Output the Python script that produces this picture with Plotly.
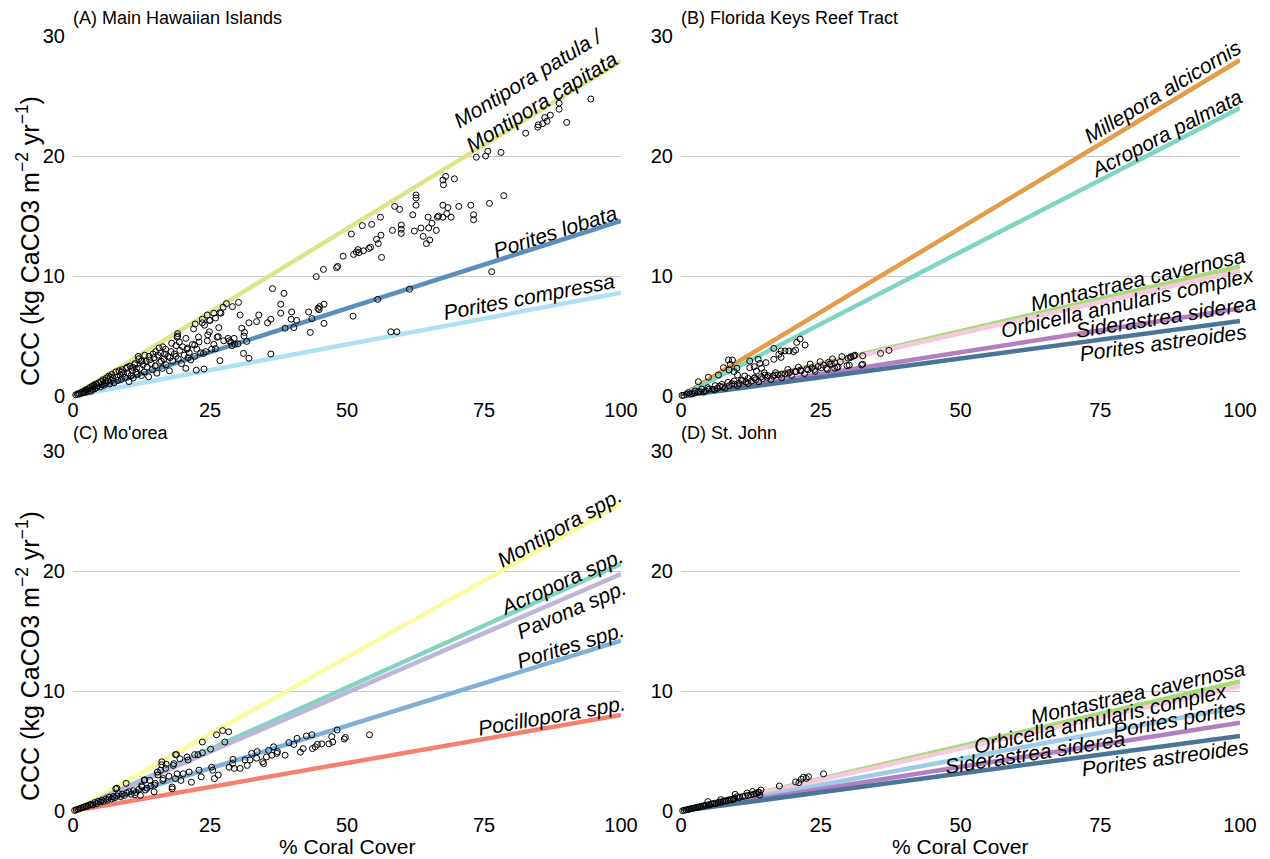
import math
import plotly.graph_objects as go

# ---------------- data ----------------
hawaii_taxa = ["Montipora patula /<br>Montipora capitata", "Porites lobata", "Porites compressa"]
hawaii_ccc100 = [27.9, 14.6, 8.6]

florida_taxa = ["Montastraea cavernosa", "Orbicella annularis complex", "Millepora alcicornis",
                "Acropora palmata", "Siderastrea siderea", "Porites astreoides"]
florida_ccc100 = [10.8, 10.45, 28.0, 24.0, 7.3, 6.25]

moorea_taxa = ["Montipora spp.", "Acropora spp.", "Pavona spp.", "Porites spp.", "Pocillopora spp."]
moorea_ccc100 = [25.6, 20.6, 19.75, 14.2, 8.0]

stjohn_taxa = ["Montastraea cavernosa", "Orbicella annularis complex", "Porites porites",
               "Siderastrea siderea", "Porites astreoides"]
stjohn_ccc100 = [10.8, 10.4, 8.7, 7.35, 6.25]

x_ticks = [0, 25, 50, 75, 100]
y_ticks = [0, 10, 20, 30]

hawaii_cover = [88.7, 88.7, 90.1, 87.1, 86.1, 86.5, 85.7, 84.8, 84.9, 82.6, 78.1, 75.7, 75.3, 73.6, 78.6, 76.4,
                69.6, 68.0, 67.5, 67.6, 72.6, 76.0, 73.1, 73.1, 70.4, 69.0, 68.4, 67.5, 68.2, 67.5, 66.5, 66.7,
                64.8, 65.5, 64.9, 66.3, 63.5, 62.3, 63.9, 65.1, 64.5, 62.6, 62.6, 62.6, 62.0, 59.9, 59.9, 59.9,
                58.3, 59.6, 58.7, 56.1, 54.5, 52.8, 50.8, 56.2, 55.4, 55.7, 56.3, 54.3, 54.0, 53.0, 52.2, 51.2,
                52.0, 51.7, 49.3, 48.3, 48.1, 45.7, 44.4, 61.4, 55.6, 51.1, 58.0, 59.1, 45.8, 45.0, 44.7, 44.9,
                43.0, 43.6, 45.8, 43.3, 36.4, 38.5, 37.9, 37.9, 39.9, 39.8, 40.8, 40.3, 38.7, 36.1, 35.5, 33.9,
                33.5, 30.5, 30.2, 29.1, 94.5,
                30.8, 32.1, 31.3, 31.2, 31.7, 31.1, 32.1, 30.1, 29.4, 28.5, 29.0, 36.1,
                28.0, 27.4, 26.8, 25.7, 24.5, 23.6, 24.9, 22.3, 26.6, 24.9, 26.5, 26.0, 26.8, 23.9, 22.5, 22.2,
                23.8, 19.1, 19.1, 18.8, 11.9, 16.4,
                0.5, 0.8, 1.0, 1.2, 1.5, 1.8, 2.0, 2.2, 2.5, 2.6, 2.8, 3.0, 3.1, 3.3, 3.5, 3.6, 3.8, 4.0, 4.2,
                4.3, 4.5, 4.7, 5.0, 5.1, 5.3, 5.5, 5.7, 6.0, 6.1, 6.3, 6.5, 6.7, 7.0, 7.1, 7.3, 7.5, 7.8, 8.0,
                8.2, 8.4, 8.6, 8.8, 9.0, 9.2, 9.5, 9.7, 10.0, 10.2, 10.4, 10.6, 10.8, 11.0, 11.3, 11.5, 11.7,
                12.0, 12.2, 12.5, 12.8, 13.0, 13.3, 13.5, 13.8, 14.0, 14.3, 14.5, 14.8, 15.0, 15.3, 15.5, 15.8,
                16.0, 16.3, 16.6, 16.9, 17.0, 17.3, 17.6, 17.9, 18.2, 18.5, 18.8, 19.0, 19.2, 19.5, 19.8, 20.0,
                20.3, 20.6, 20.9, 21.2, 21.5, 21.8, 22.0, 22.2, 22.6, 23.0, 23.3, 23.6, 24.0, 24.2, 24.5, 25.0,
                25.3, 25.7, 26.0, 26.3, 27.0, 27.5, 28.3, 28.8, 29.5,
                2.3, 3.9, 5.9, 6.8, 8.9, 9.9, 11.2, 12.6, 13.9, 15.1, 16.7, 18.0, 20.6, 21.0,
                10.9, 12.4, 14.6, 16.1, 17.7, 19.4, 20.8, 22.9, 24.6, 15.7, 13.1, 11.6]
hawaii_ccc = [24.4, 23.9, 22.8, 23.4, 23.2, 22.9, 22.7, 22.4, 22.6, 21.9, 20.3, 20.4, 20.0, 19.9, 16.7, 10.36,
              18.1, 18.3, 18.0, 17.6, 15.9, 16.05, 15.1, 14.7, 15.8, 14.9, 15.7, 15.9, 15.2, 14.9, 14.9, 15.0,
              14.9, 14.4, 14.0, 13.8, 14.0, 13.75, 13.3, 13.0, 12.7, 16.75, 16.5, 15.9, 15.1, 14.25, 13.9, 13.55,
              13.8, 15.55, 15.8, 14.9, 14.3, 14.2, 13.5, 13.4, 13.05, 12.7, 11.55, 12.4, 12.3, 12.1, 11.95, 11.8,
              12.2, 12.0, 11.65, 10.8, 10.7, 10.55, 9.95, 8.9, 8.05, 6.65, 5.35, 5.35, 7.65, 7.45, 7.3, 7.2,
              7.0, 6.45, 6.05, 5.3, 8.95, 8.55, 7.65, 6.9, 7.0, 6.4, 6.3, 5.7, 5.65, 6.4, 6.1, 6.75,
              6.2, 6.75, 7.8, 7.45, 24.75,
              5.65, 6.1, 5.3, 5.0, 4.55, 3.55, 3.15, 4.35, 4.8, 4.6, 4.2, 3.5,
              7.7, 7.4, 6.95, 6.9, 6.75, 6.4, 6.3, 6.0, 5.7, 5.35, 4.95, 3.95, 2.95, 2.25, 2.15, 4.25,
              3.55, 5.2, 5.0, 3.3, 3.3, 4.1,
              0.1, 0.15, 0.2, 0.15, 0.3, 0.25, 0.4, 0.3, 0.5, 0.35, 0.6, 0.45, 0.7, 0.4, 0.8, 0.55, 0.9, 0.6, 1.0,
              0.7, 0.85, 1.1, 0.75, 1.2, 0.95, 1.35, 0.9, 1.1, 1.5, 1.25, 1.65, 1.0, 1.3, 1.8, 1.5, 1.1, 2.0, 1.6,
              1.3, 2.1, 1.75, 1.4, 2.2, 1.85, 1.55, 2.3, 1.9, 1.2, 2.5, 1.7, 2.1, 1.5, 2.7, 2.0, 1.8,
              3.1, 2.3, 1.7, 2.6, 2.0, 2.9, 2.4, 1.6, 3.0, 2.7, 2.2, 3.2, 2.5, 1.9, 3.4, 2.8,
              3.6, 2.3, 3.1, 3.9, 2.6, 3.3, 2.1, 3.7, 2.9, 3.5, 4.2, 4.9, 3.1, 3.8, 2.7, 4.1,
              3.4, 2.3, 4.0, 3.6, 3.0, 4.3, 5.6, 3.3, 3.9, 4.5, 3.6, 6.1, 5.9, 3.7, 4.6, 6.3,
              3.9, 4.3, 6.5, 4.9, 6.9, 4.6, 4.8, 4.5, 4.3,
              0.5, 0.8, 1.3, 1.6, 2.0, 2.4, 2.6, 2.9, 3.3, 3.7, 3.5, 4.4, 4.8, 3.2,
              2.4, 2.9, 3.5, 2.9, 3.2, 4.5, 3.9, 4.9, 5.1, 4.0, 3.4, 2.3]

florida_cover = [37.2, 35.7, 32.5, 32.5, 31.1, 30.3, 21.3, 22.2, 20.7, 16.6, 17.9, 18.6, 19.3, 20.1, 17.5, 17.9,
                 16.6, 20.5, 8.5, 9.2, 8.8, 7.6, 12.3, 13.8, 14.1, 13.1, 12.3, 14.4, 13.5, 15.2, 14.9, 10.0,
                 9.5, 10.1, 11.4, 8.6, 6.7, 4.9, 3.1,
                 29.9, 30.4, 30.9, 32.3, 29.7, 28.1, 27.5, 26.4, 26.9, 26.0, 25.1, 23.9, 22.7, 21.5, 20.4, 19.2,
                 18.0, 16.8, 15.6, 14.4, 13.2, 12.0, 10.8, 9.5, 8.4, 7.3, 6.1, 4.8, 3.7, 2.5, 1.3, 0.2,
                 2.0, 4.1, 6.0, 7.9, 10.1, 12.0, 13.9, 16.1, 18.0, 19.8, 22.1, 24.0, 26.2, 27.9, 30.1,
                 1.0, 3.1, 5.0, 6.9, 9.1, 11.0, 13.1, 15.0, 16.9, 19.1, 21.0, 23.1, 24.9, 27.1, 28.8,
                 0.5, 1.6, 2.4, 3.5, 4.4, 5.6, 6.5, 7.4, 8.6, 9.6, 10.4, 11.6, 12.6, 13.4, 14.6, 15.4, 16.5,
                 17.4, 18.6, 19.5, 20.6, 21.4, 22.5, 23.4, 24.5, 25.5, 26.6, 27.5, 28.5]
florida_ccc = [3.8, 3.55, 3.35, 2.65, 3.4, 3.2, 4.75, 4.25, 4.47, 3.97, 3.75, 3.75, 3.75, 3.7, 3.47, 3.22,
               3.06, 3.83, 3.0, 3.0, 2.64, 2.36, 2.92, 3.06, 2.72, 2.44, 2.36, 2.31, 2.08, 2.78, 1.94, 2.31,
               2.03, 1.75, 1.67, 2.17, 1.75, 1.56, 1.19,
               3.14, 3.28, 3.33, 2.58, 2.53, 2.44, 2.31, 2.81, 2.64, 2.31, 2.36, 2.22, 2.17, 2.08, 2.03, 1.89,
               1.81, 1.75, 1.69, 1.61, 1.53, 1.47, 1.33, 1.25, 1.14, 0.97, 0.86, 0.69, 0.58, 0.42, 0.28, 0.05,
               0.17, 0.33, 0.52, 0.66, 0.86, 1.03, 1.18, 1.37, 1.52, 1.71, 1.86, 2.05, 2.21, 2.38, 2.57,
               0.13, 0.36, 0.57, 0.81, 1.03, 1.28, 1.49, 1.74, 1.94, 2.21, 2.40, 2.66, 2.86, 3.09, 3.28,
               0.06, 0.16, 0.25, 0.36, 0.44, 0.57, 0.64, 0.76, 0.85, 0.97, 1.04, 1.17, 1.24, 1.36, 1.45, 1.56, 1.66,
               1.77, 1.84, 1.97, 2.04, 2.16, 2.26, 2.35, 2.44, 2.57, 2.66, 2.77, 2.86]

moorea_cover = [54.1, 49.7, 49.5, 48.2, 47.2, 47.4, 46.7, 45.4, 44.6, 44.2, 43.7, 43.6, 42.6, 42.0, 41.5, 40.9,
                40.3, 39.4, 38.7, 37.3, 37.2, 36.6, 36.3, 35.7, 35.3, 34.6, 34.8, 33.6, 33.5, 32.6, 32.3, 31.8,
                31.4, 30.5, 29.4, 29.2, 29.1, 28.5, 28.4, 27.3, 26.2, 27.7, 26.5, 25.8, 25.5, 25.3, 25.1, 23.6,
                23.6, 23.0, 23.4, 22.8, 22.2, 21.6, 21.0, 20.8, 21.2, 20.1, 19.7, 18.7, 18.4, 18.7, 18.1, 18.1,
                16.9, 16.2, 16.0, 16.4, 15.4, 14.9, 14.8, 13.0, 12.6, 12.3, 9.7, 7.8,
                0.3, 0.6, 0.9, 1.2, 1.5, 1.8, 2.1, 2.4, 2.7, 3.0, 3.3, 3.6, 4.0, 4.3, 4.6, 5.0, 5.3, 5.6, 6.0,
                6.3, 6.6, 7.0, 7.3, 7.6, 8.0, 8.3, 8.7, 9.0, 9.4, 9.8, 10.2, 10.6, 11.0, 11.5, 12.0, 13.5, 14.2,
                15.0, 16.5, 17.5, 19.0, 13.1, 19.5, 17.0, 14.0, 12.5, 13.2, 11.3, 8.0, 15.5, 16.2, 18.9, 18.3]
moorea_ccc = [6.35, 6.13, 6.0, 6.75, 6.2, 5.75, 5.6, 5.6, 5.55, 5.35, 5.2, 6.35, 6.25, 5.2, 4.9, 6.05,
              5.55, 5.7, 4.65, 4.95, 4.8, 5.35, 4.65, 5.05, 4.5, 4.1, 3.95, 4.95, 4.4, 4.8, 4.25, 3.8,
              4.25, 3.55, 3.55, 4.3, 3.95, 3.65, 6.6, 6.7, 6.35, 5.75, 3.0, 2.7, 3.4, 3.65, 5.15, 5.75,
              4.85, 3.4, 2.85, 4.7, 4.7, 2.4, 4.25, 4.5, 3.25, 3.1, 2.55, 4.7, 3.95, 2.7, 2.0, 1.85,
              3.55, 4.1, 3.4, 2.55, 3.25, 2.15, 1.6, 2.55, 2.0, 1.3, 2.3, 1.85,
              0.05, 0.1, 0.15, 0.2, 0.25, 0.3, 0.35, 0.4, 0.4, 0.5, 0.55, 0.5, 0.7, 0.6, 0.8, 0.75, 0.9, 0.8, 1.0,
              0.9, 1.15, 1.0, 1.2, 1.1, 1.25, 1.45, 1.2, 1.4, 1.3, 1.5, 1.6, 1.4, 1.7, 1.55, 1.8, 1.9, 2.1,
              2.3, 2.7, 2.9, 3.1, 2.6, 4.35, 3.9, 2.55, 2.1, 1.75, 1.35, 1.9, 3.0, 3.85, 4.7, 3.8]

stjohn_cover = [25.5, 22.8, 22.4, 21.9, 21.5, 21.1, 20.5, 17.6, 14.3, 13.8, 13.4, 14.1, 9.7, 10.0, 9.4, 4.8,
                0.3, 0.6, 0.9, 1.2, 1.5, 1.8, 2.1, 2.4, 2.7, 3.0, 3.3, 3.6, 3.9, 4.2, 4.5, 4.9, 5.1, 5.4, 5.7,
                6.0, 6.3, 6.6, 6.9, 7.2, 7.5, 7.8, 8.1, 8.4, 8.7, 9.0, 9.3, 9.6, 10.3, 10.5, 11.0, 11.5, 12.0,
                12.5, 13.0, 13.5, 14.0, 12.8, 11.8, 7.1]
stjohn_ccc = [3.1, 2.86, 2.72, 2.81, 2.64, 2.36, 2.42, 2.08, 1.75, 1.56, 1.47, 1.33, 1.39, 1.19, 0.97, 0.78,
              0.03, 0.06, 0.09, 0.12, 0.15, 0.2, 0.22, 0.25, 0.28, 0.32, 0.35, 0.38, 0.42, 0.45, 0.48, 0.52, 0.5, 0.58, 0.6,
              0.65, 0.62, 0.7, 0.75, 0.72, 0.8, 0.85, 0.82, 0.9, 0.95, 0.92, 1.0, 1.05, 1.1, 1.15, 1.2, 1.25, 1.3,
              1.35, 1.4, 1.45, 1.55, 1.62, 1.5, 0.95]

# ---------------- styles / layout ----------------
W, H = 1270, 859
FONT = "Liberation Sans, Arial, Helvetica, sans-serif"

hawaii_colors = ["#dfe38a", "#5b8fb9", "#aee0f7"]
florida_colors = ["#a6dc74", "#f8c8e0", "#e69b48", "#80d4c4", "#b27fc2", "#4a7598"]
moorea_colors = ["#fbfb9e", "#84d3c1", "#bdb6da", "#7fb0d8", "#f6806f"]
stjohn_colors = ["#a6dc74", "#f8c8e0", "#9ecbea", "#b27fc2", "#4a7598"]

# label centres (data coords) for each taxon label
hawaii_lab = [(84.2, 25.5), (88.0, 13.7), (83.3, 8.3)]
florida_lab = [(81.7, 9.7), (79.9, 7.8), (86.1, 25.4), (86.7, 21.9), (86.7, 6.6), (86.3, 4.45)]
moorea_lab = [(88.8, 23.6), (89.2, 19.1), (90.9, 16.8), (90.7, 13.8), (87.4, 7.95)]
stjohn_lab = [(81.7, 9.9), (75.0, 7.7), (89.2, 7.7), (63.3, 4.85), (86.7, 4.45)]

# pixel boxes of plot areas: (left, right, top, bottom)
boxes = {
    "A": (73, 621, 36, 396),
    "B": (681, 1240, 36, 396),
    "C": (73, 621, 451, 811),
    "D": (681, 1240, 451, 811),
}

def px(x):
    return x / W

def py(y):
    return 1 - y / H

fig = go.Figure()

panels = [
    ("A", "x", "y", hawaii_taxa, hawaii_ccc100, hawaii_colors, hawaii_lab, hawaii_cover, hawaii_ccc),
    ("B", "x2", "y2", florida_taxa, florida_ccc100, florida_colors, florida_lab, florida_cover, florida_ccc),
    ("C", "x3", "y3", moorea_taxa, moorea_ccc100, moorea_colors, moorea_lab, moorea_cover, moorea_ccc),
    ("D", "x4", "y4", stjohn_taxa, stjohn_ccc100, stjohn_colors, stjohn_lab, stjohn_cover, stjohn_ccc),
]

annotations = []
for key, xa, ya, taxa, ends, colors, labs, cov, ccc in panels:
    l, r, t, b = boxes[key]
    xpu = (r - l) / 100.0
    ypu = (b - t) / 30.0
    for name, end, col in zip(taxa, ends, colors):
        fig.add_trace(go.Scatter(x=[0, 100], y=[0, end], mode="lines",
                                 line=dict(color=col, width=4.5), xaxis=xa, yaxis=ya,
                                 hoverinfo="skip", cliponaxis=False))
    fig.add_trace(go.Scatter(x=cov, y=ccc, mode="markers",
                             marker=dict(symbol="circle-open", size=6, color="black",
                                         line=dict(width=1, color="black")),
                             xaxis=xa, yaxis=ya, cliponaxis=False))
    for name, end, (lx, ly) in zip(taxa, ends, labs):
        ang = math.degrees(math.atan(end * ypu / (100 * xpu)))
        annotations.append(dict(x=lx, y=ly, xref=xa, yref=ya, text="<i>" + name + "</i>",
                                showarrow=False, textangle=-ang, xanchor="center", yanchor="middle",
                                font=dict(family=FONT, size=21, color="black", style="italic"),
                                align="center"))

titles = [("(A) Main Hawaiian Islands", 73, 18), ("(B) Florida Keys Reef Tract", 681, 18),
          ("(C) Mo'orea", 73, 433), ("(D) St. John", 681, 433)]
for txt, x0, y0 in titles:
    annotations.append(dict(x=px(x0 - 2), y=py(y0), xref="paper", yref="paper", text=txt,
                            showarrow=False, xanchor="left", yanchor="middle",
                            font=dict(family=FONT, size=18, color="black")))

ytitle = "CCC (kg CaCO3 m<sup>\u22122</sup> yr<sup>\u22121</sup>)"
for yc in (241, 656):
    annotations.append(dict(x=px(28), y=py(yc), xref="paper", yref="paper", text=ytitle,
                            showarrow=False, textangle=-90, xanchor="center", yanchor="middle",
                            font=dict(family=FONT, size=25, color="black")))
for xc in (347, 960):
    annotations.append(dict(x=px(xc), y=py(846), xref="paper", yref="paper", text="% Coral Cover",
                            showarrow=False, xanchor="center", yanchor="middle",
                            font=dict(family=FONT, size=21, color="black")))

layout = dict(width=W, height=H, margin=dict(l=0, r=0, t=0, b=0),
              plot_bgcolor="white", paper_bgcolor="white", showlegend=False,
              annotations=annotations)

axis_names = {"A": ("xaxis", "yaxis", "x", "y"), "B": ("xaxis2", "yaxis2", "x2", "y2"),
              "C": ("xaxis3", "yaxis3", "x3", "y3"), "D": ("xaxis4", "yaxis4", "x4", "y4")}
for key, (xn, yn, xr, yr) in axis_names.items():
    l, r, t, b = boxes[key]
    layout[xn] = dict(domain=[px(l), px(r)], range=[0, 100], anchor=yr, tickvals=x_ticks,
                      showgrid=False, zeroline=False, showline=False, ticks="",
                      tickfont=dict(family=FONT, size=20, color="black"), automargin=False,
                      fixedrange=True)
    layout[yn] = dict(domain=[py(b), py(t)], range=[0, 30], anchor=xr, tickvals=y_ticks,
                      showgrid=True, gridcolor="#c8c8c8", gridwidth=1.3, zeroline=False,
                      showline=False, ticks="", tickfont=dict(family=FONT, size=20, color="black"),
                      ticklabelstandoff=7, automargin=False, fixedrange=True)

fig.update_layout(**layout)
fig.write_html("out.html")
